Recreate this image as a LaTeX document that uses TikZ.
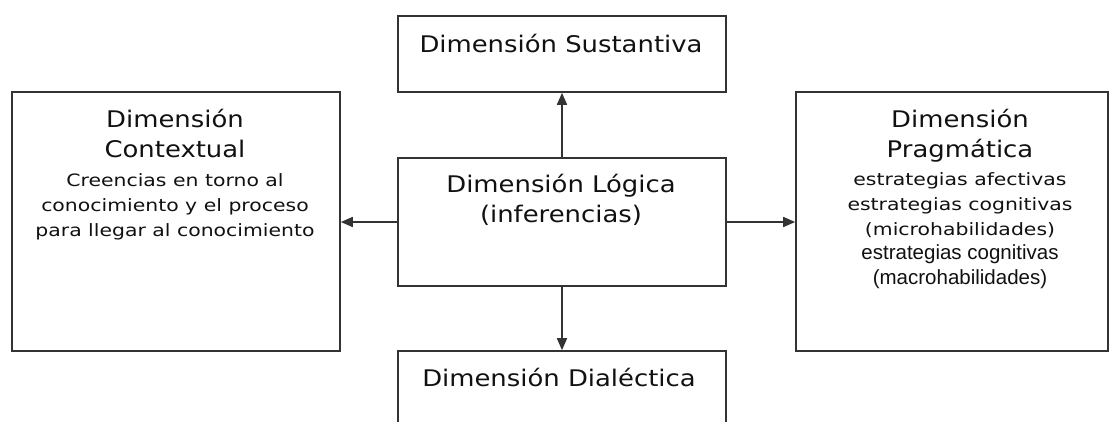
\documentclass[tikz,border=0pt]{standalone}
\usepackage{fontspec}
\usetikzlibrary{arrows.meta}
\newfontfamily\ttlfont[FakeStretch=1.13]{DejaVu Sans}
\newfontfamily\pixfont[FakeStretch=1.2]{DejaVu Sans}
\newfontfamily\arialfont{Liberation Sans}
\definecolor{edgec}{HTML}{333333}
\definecolor{ink}{HTML}{111111}
\begin{document}
\begin{tikzpicture}[x=1pt,y=-1pt,
  box/.style={draw=edgec, line width=1.6pt, inner sep=0pt, rectangle},
  ttl/.style={anchor=base, inner sep=0pt, align=center, text=ink, font=\ttlfont\fontsize{22.9}{30}\selectfont},
  body/.style={anchor=base, inner sep=0pt, align=center, text=ink, font=\pixfont\fontsize{17}{25}\selectfont},
  arialtxt/.style={anchor=base, inner sep=0pt, align=center, text=ink, font=\arialfont\fontsize{20.5}{24.5}\selectfont},
  conn/.style={draw=edgec, line width=1.6pt, -{Triangle[length=12pt,width=10pt]}}]
\useasboundingbox (0,0) rectangle (1109,421);
\clip (0,0) rectangle (1109,421);
\fill[white] (0,0) rectangle (1109,421);
% boxes
\node[box, minimum width=328pt, minimum height=76pt] (sus) at (562,54) {};
\node[box, minimum width=328pt, minimum height=259pt] (ctx) at (176,221.5) {};
\node[box, minimum width=328pt, minimum height=128pt] (log) at (562,222) {};
\node[box, minimum width=312pt, minimum height=259pt] (pra) at (952,221.5) {};
\node[box, minimum width=328pt, minimum height=100pt] (dia) at (562,401) {};
% connectors
\draw[conn] (log.north) -- (sus.south);
\draw[conn] (log.west) -- (log.west -| ctx.east);
\draw[conn] (log.east) -- (log.east -| pra.west);
\draw[conn] (log.south) -- (dia.north);
% texts (base anchor = baseline of the last line)
\node[ttl] (sust) at (561,52) {Dimensión Sustantiva};
\node[ttl] (logt) at (561,222) {Dimensión Lógica\\(inferencias)};
\node[ttl] (diat) at (559,386) {Dimensión Dialéctica};
\node[ttl] (ctxt) at (175,157) {Dimensión\\Contextual};
\node[body] (ctxb) at (175,236) {Creencias en torno al\\conocimiento y el proceso\\para llegar al conocimiento};
\node[ttl] (prat) at (960,157) {Dimensión\\Pragmática};
\node[body] (prab) at (960,235) {estrategias afectivas\\estrategias cognitivas\\(microhabilidades)};
\node[arialtxt] (praa) at (960,284) {estrategias cognitivas\\(macrohabilidades)};
\end{tikzpicture}
\end{document}
